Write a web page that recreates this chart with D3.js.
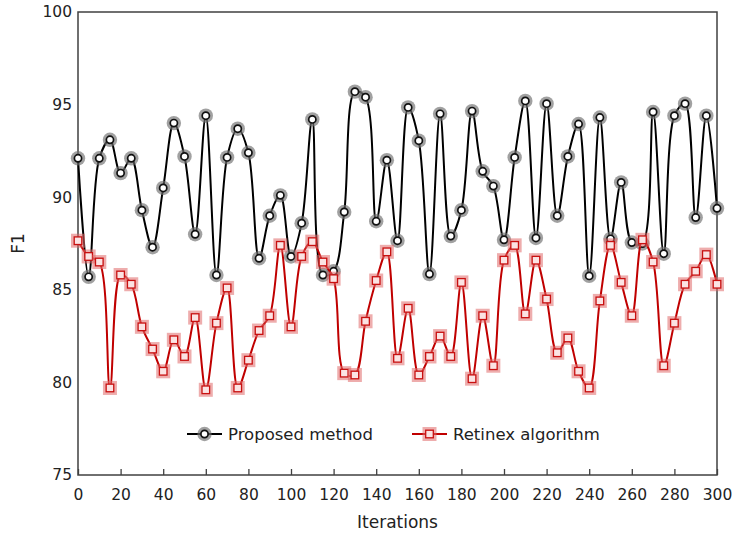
<!DOCTYPE html>
<html>
<head>
<meta charset="utf-8">
<script src="https://cdn.jsdelivr.net/npm/d3@7/dist/d3.min.js"></script>
<style>
  html, body { margin: 0; padding: 0; background: #fff; }
  svg { display: block; font-family: "DejaVu Sans", Verdana, sans-serif; }
</style>
</head>
<body>
<svg id="chart" width="734" height="534"></svg>
<script>
const iterations = [0,5,10,15,20,25,30,35,40,45,50,55,60,65,70,75,80,85,90,95,100,105,110,115,120,125,130,135,140,145,150,155,160,165,170,175,180,185,190,195,200,205,210,215,220,225,230,235,240,245,250,255,260,265,270,275,280,285,290,295,300];
const proposed = [92.1,85.7,92.1,93.1,91.3,92.1,89.3,87.3,90.5,94.0,92.2,88.0,94.4,85.8,92.15,93.7,92.4,86.7,89.0,90.1,86.8,88.6,94.2,85.8,86.0,89.2,95.7,95.4,88.7,92.0,87.65,94.85,93.05,85.85,94.5,87.9,89.3,94.65,91.4,90.6,87.7,92.15,95.2,87.8,95.05,89.0,92.2,93.95,85.75,94.3,87.75,90.8,87.55,87.5,94.6,86.95,94.4,95.05,88.9,94.4,89.4];
const retinex = [87.65,86.8,86.5,79.7,85.8,85.3,83.0,81.8,80.6,82.3,81.4,83.5,79.6,83.2,85.1,79.7,81.2,82.8,83.6,87.4,83.0,86.8,87.6,86.5,85.6,80.5,80.4,83.3,85.5,87.05,81.3,84.0,80.4,81.4,82.5,81.4,85.4,80.2,83.6,80.9,86.6,87.4,83.7,86.6,84.5,81.6,82.4,80.6,79.7,84.4,87.4,85.4,83.6,87.7,86.5,80.9,83.2,85.3,86.0,86.9,85.3];
const xTicks = [0,20,40,60,80,100,120,140,160,180,200,220,240,260,280,300];
const yTicks = [75,80,85,90,95,100];
const seriesNames = ["Proposed method", "Retinex algorithm"];

(function () {
const svg = d3.select("#chart");
const mLeft = 78, mRight = 717, mTop = 12, mBottom = 475;
const x = d3.scaleLinear().domain([0, 300]).range([mLeft, mRight]);
const y = d3.scaleLinear().domain([75, 100]).range([mBottom, mTop]);

const axisColor = "#404040";
const ff = "DejaVu Sans, Verdana, sans-serif";

// X axis (ticks inward)
const gx = svg.append("g").attr("transform", `translate(0,${mBottom})`)
  .call(d3.axisBottom(x).tickValues(xTicks).tickSizeInner(-6).tickSizeOuter(0).tickPadding(14));
gx.select(".domain").remove();
gx.selectAll(".tick line").attr("stroke", axisColor).attr("stroke-width", 1.3);
gx.selectAll(".tick text").attr("font-size", 15.5).attr("fill", "#222").attr("font-family", ff);

// Y axis (no ticks)
const gy = svg.append("g").attr("transform", `translate(${mLeft},0)`)
  .call(d3.axisLeft(y).tickValues(yTicks).tickSize(0).tickPadding(6));
gy.select(".domain").remove();
gy.selectAll(".tick text").attr("font-size", 15.5).attr("fill", "#222").attr("font-family", ff);

// Frame
svg.append("rect").attr("x", mLeft).attr("y", mTop).attr("width", mRight - mLeft).attr("height", mBottom - mTop)
  .attr("fill", "none").attr("stroke", axisColor).attr("stroke-width", 1.5);

// Axis titles
svg.append("text").attr("x", (mLeft + mRight) / 2).attr("y", 528).attr("text-anchor", "middle")
  .attr("font-size", 17).attr("fill", "#222").text("Iterations");
svg.append("text").attr("transform", `translate(24,${(mTop + mBottom) / 2}) rotate(-90)`)
  .attr("text-anchor", "middle").attr("font-size", 17).attr("fill", "#222").text("F1");

const line = d3.line().curve(d3.curveCatmullRom.alpha(0.5));

function drawCircle(g, cx, cy) {
  g.append("circle").attr("cx", cx).attr("cy", cy).attr("r", 7.2).attr("fill", "#6e6e6e").attr("fill-opacity", 0.65);
  g.append("circle").attr("cx", cx).attr("cy", cy).attr("r", 3.6).attr("fill", "#fff").attr("stroke", "#111").attr("stroke-width", 1.7);
}
function drawSquare(g, cx, cy) {
  g.append("rect").attr("x", cx - 7).attr("y", cy - 7).attr("width", 14).attr("height", 14)
    .attr("fill", "#e06a6a").attr("fill-opacity", 0.55);
  g.append("rect").attr("x", cx - 3.8).attr("y", cy - 3.8).attr("width", 7.6).attr("height", 7.6)
    .attr("fill", "#fbe3e3").attr("stroke", "#c81010").attr("stroke-width", 1.3);
}

// Proposed series
const gP = svg.append("g");
gP.append("path").attr("d", line(iterations.map((d, i) => [x(d), y(proposed[i])])))
  .attr("fill", "none").attr("stroke", "#000").attr("stroke-width", 2);
iterations.forEach((d, i) => drawCircle(gP, x(d), y(proposed[i])));

// Retinex series
const gR = svg.append("g");
gR.append("path").attr("d", line(iterations.map((d, i) => [x(d), y(retinex[i])])))
  .attr("fill", "none").attr("stroke", "#c00000").attr("stroke-width", 2);
iterations.forEach((d, i) => drawSquare(gR, x(d), y(retinex[i])));

// Legend
const ly = 434;
const lg = svg.append("g");
lg.append("line").attr("x1", 187).attr("x2", 222).attr("y1", ly).attr("y2", ly).attr("stroke", "#000").attr("stroke-width", 2);
drawCircle(lg, 204.5, ly);
lg.append("text").attr("x", 228).attr("y", ly + 6).attr("font-size", 16.5).attr("fill", "#222").text(seriesNames[0]);
lg.append("line").attr("x1", 412).attr("x2", 447).attr("y1", ly).attr("y2", ly).attr("stroke", "#c00000").attr("stroke-width", 2);
drawSquare(lg, 429.5, ly);
lg.append("text").attr("x", 453).attr("y", ly + 6).attr("font-size", 16.5).attr("fill", "#222").text(seriesNames[1]);
})();
</script>
</body>
</html>
